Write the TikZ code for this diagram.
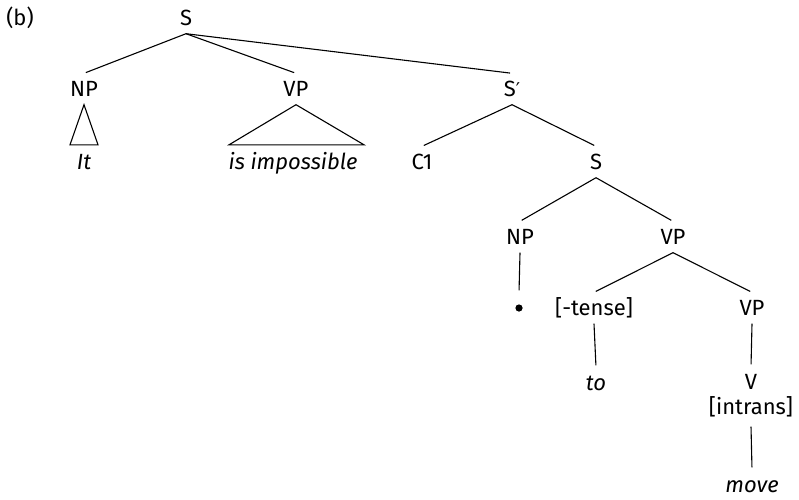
\documentclass[tikz,border=0pt]{standalone}
\usepackage{fontspec}
\setmainfont{Fira Sans}
\newfontfamily\primefont{DejaVu Sans}
\begin{document}
\begin{tikzpicture}[x=1pt,y=-1pt,
  lab/.style={font=\fontsize{22}{26}\selectfont, text height=15pt, text depth=0pt, inner xsep=1pt, inner ysep=8pt, anchor=center},
  it/.style={lab, font=\fontsize{22}{26}\selectfont\itshape},
  br/.style={line width=1.1pt, shorten >=2pt},
  tri/.style={line width=1.1pt, line join=miter}]
\useasboundingbox (0,0) rectangle (799,499);
\node[lab] (b) at (20,18) {(b)};
\node[lab] (S) at (186,18) {S};
\node[lab] (NP1) at (84,89) {NP};
\node[lab] (VP1) at (296,89) {VP};
\node[lab] (Sb) at (512,89) {S{\primefont\fontsize{19}{22}\selectfont ′}};
\node[it] (It) at (84,162) {It};
\node[it] (isimp) at (293,162) {is impossible};
\node[lab] (C1) at (422,162) {C1};
\node[lab] (S2) at (596,162) {S};
\node[lab] (NP2) at (520,237) {NP};
\node[lab] (VP2) at (673,237) {VP};
\node[lab] (dot) at (519,308) {};
\node[lab] (tense) at (594,308) {[-tense]};
\node[lab] (VP3) at (752,308) {VP};
\node[it] (to) at (596,383) {to};
\node[lab] (V) at (751,382) {V};
\node[lab, inner ysep=0pt] (intr) at (751,407) {[intrans]};
\node[it] (move) at (752,485) {move};
\fill (dot.center) circle (3.6pt);
\draw[br] (S.south) -- (NP1.north);
\draw[br] (S.south) -- (VP1.north);
\draw[br] (S.south) -- (Sb.north);
\draw[br] (Sb.south) -- (C1.north);
\draw[br] (Sb.south) -- (S2.north);
\draw[br] (S2.south) -- (NP2.north);
\draw[br] (S2.south) -- (VP2.north);
\draw[br] (NP2.south) -- (dot.north);
\draw[br] (VP2.south) -- (tense.north);
\draw[br] (VP2.south) -- (VP3.north);
\draw[br] (tense.south) -- (to.north);
\draw[br] (VP3.south) -- (V.north);
\draw[br] ([yshift=-12pt]intr.south) -- (move.north);
\draw[tri] (NP1.south) -- ([xshift=-14pt,yshift=1.5pt]It.north) -- ([xshift=14pt,yshift=1.5pt]It.north) -- cycle;
\draw[tri] (VP1.south) -- ([xshift=-64pt,yshift=1.5pt]isimp.north) -- ([xshift=71pt,yshift=1.5pt]isimp.north) -- cycle;
\end{tikzpicture}
\end{document}
